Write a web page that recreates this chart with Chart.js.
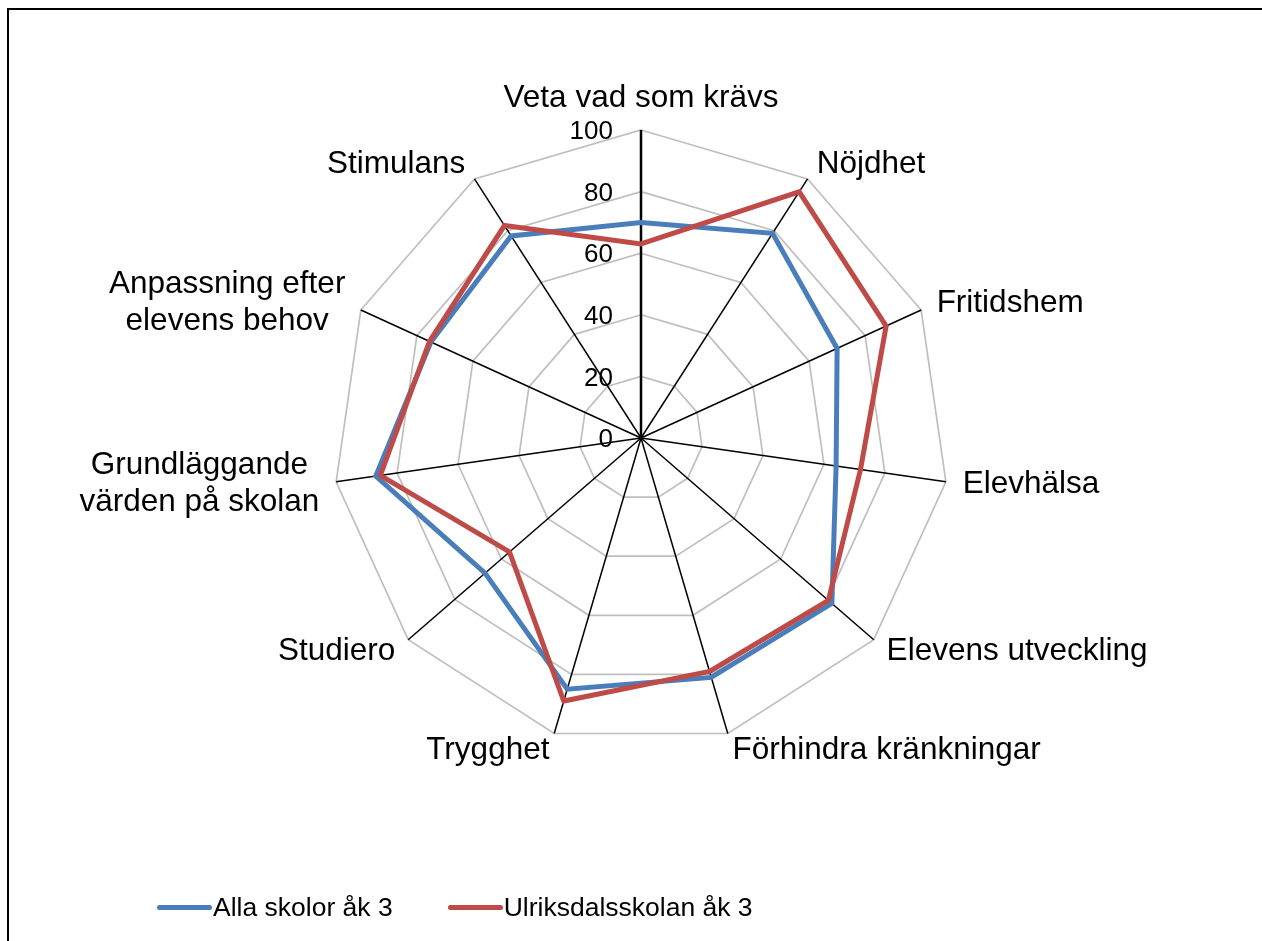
<!DOCTYPE html>
<html>
<head>
<meta charset="utf-8">
<script src="https://cdn.jsdelivr.net/npm/chart.js@4/dist/chart.umd.min.js"></script>
<style>
    body { margin: 0; background: #fff; overflow: hidden; }
    #wrap { position: relative; width: 1262px; height: 941px; overflow: hidden; }
    #frame {
        position: absolute; left: 7px; top: 8px; width: 2000px; height: 2000px;
        border-left: 2px solid #000; border-top: 2px solid #000;
    }
    #legend {
        position: absolute; left: 157px; top: 891px; display: flex;
        font: 26.5px "Liberation Sans", Arial, sans-serif; color: #000;
    }
    .item { display: flex; align-items: center; margin-right: 55px; height: 32px; }
    .swatch { width: 55px; height: 5px; border-radius: 3px; margin-right: 1px; }
    canvas { position: absolute; left: 0; top: 0; }
</style>
</head>
<body>
<div id="wrap">
    <div id="frame"></div>
    <canvas id="radar" width="1262" height="941"></canvas>
    <div id="legend"></div>
</div>
<script>
const categories = [
    "Veta vad som krävs",
    "Nöjdhet",
    "Fritidshem",
    "Elevhälsa",
    "Elevens utveckling",
    "Förhindra kränkningar",
    "Trygghet",
    "Studiero",
    ["Grundläggande", "värden på skolan"],
    ["Anpassning efter", "elevens behov"],
    "Stimulans"
];
const allaSkolor = [70, 79, 70, 64, 82, 81, 85, 67, 87, 75, 78];
const ulriksdal = [63, 95, 87.5, 72, 80.5, 79, 89, 56.5, 85.5, 75.5, 82];
const tickValues = [0, 20, 40, 60, 80, 100];

const seriesNames = ["Alla skolor åk 3", "Ulriksdalsskolan åk 3"];
const seriesColors = ["#4A7EBB", "#BE4B48"];

const FONT = '"Liberation Sans", Arial, sans-serif';

// tick numbers and category labels drawn the way Excel places them
const excelLabels = {
    id: "excelLabels",
    afterDraw(chart) {
        const r = chart.scales.r;
        const ctx = chart.ctx;
        ctx.save();
        ctx.fillStyle = "#000";

        ctx.font = "26px " + FONT;
        ctx.textAlign = "right";
        ctx.textBaseline = "middle";
        tickValues.forEach(v => {
            const y = r.yCenter - r.getDistanceFromCenterForValue(v);
            ctx.fillText(String(v), r.xCenter - 28, y + 2);
        });

        ctx.font = "31.5px " + FONT;
        ctx.textAlign = "center";
        const dist = r.drawingArea + 17;
        const lh = 37;
        categories.forEach((label, i) => {
            const p = r.getPointPosition(i, dist);
            const s = (p.x - r.xCenter) / dist;
            const lines = [].concat(label);
            const w = Math.max(...lines.map(l => ctx.measureText(l).width));
            const blockH = (lines.length - 1) * lh;
            let cx = p.x;
            let cy = p.y - blockH / 2;
            if (Math.abs(s) < 0.05) {
                cy = p.y - 15 - blockH;
            } else if (s > 0) {
                cx = p.x + w / 2;
            } else {
                cx = p.x - w / 2;
            }
            lines.forEach((l, k) => ctx.fillText(l, cx, cy + k * lh));
        });
        ctx.restore();
    }
};

const ctx = document.getElementById("radar").getContext("2d");

new Chart(ctx, {
    type: "radar",
    data: {
        labels: categories,
        datasets: [{
            label: seriesNames[0],
            data: allaSkolor,
            borderColor: seriesColors[0],
            borderWidth: 5,
            fill: false,
            pointRadius: 0,
            order: 1
        }, {
            label: seriesNames[1],
            data: ulriksdal,
            borderColor: seriesColors[1],
            borderWidth: 5,
            fill: false,
            pointRadius: 0,
            order: 0
        }]
    },
    options: {
        responsive: false,
        animation: false,
        layout: {
            padding: { left: 333, top: 130, right: 313, bottom: 195 }
        },
        plugins: {
            legend: { display: false },
            tooltip: { enabled: false }
        },
        scales: {
            r: {
                min: 0,
                max: 100,
                ticks: { stepSize: 20, display: false },
                grid: { color: "#BFBFBF", lineWidth: 1.7 },
                angleLines: {
                    color: "#000",
                    lineWidth: c => c.index === 0 ? 2.5 : 1.5
                },
                pointLabels: { display: false }
            }
        }
    },
    plugins: [excelLabels]
});

const legend = document.getElementById("legend");
seriesNames.forEach((name, i) => {
    const item = document.createElement("div");
    item.className = "item";
    item.innerHTML = `<span class="swatch" style="background:${seriesColors[i]}"></span><span>${name}</span>`;
    legend.appendChild(item);
});
</script>
</body>
</html>
